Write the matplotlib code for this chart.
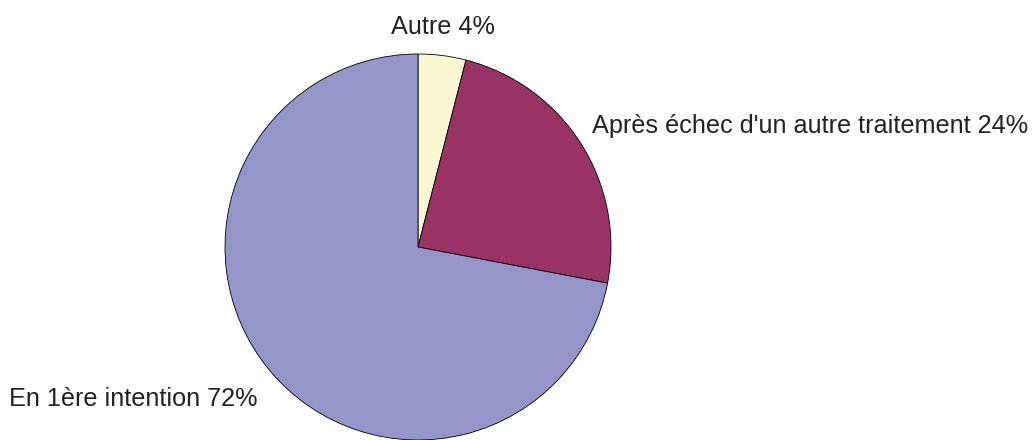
import matplotlib
matplotlib.use("Agg")
import matplotlib.pyplot as plt

labels = ["Autre", "Après échec d'un autre traitement", "En 1ère intention"]
shares = [4, 24, 72]
colors = ["#FAF8D2", "#993366", "#9595C9"]

plt.rcParams["font.family"] = ["Liberation Sans", "DejaVu Sans"]

W, H = 1033, 440
fig = plt.figure(figsize=(W / 100, H / 100), dpi=100)
R = 193
cx, cy = 418, 247
ax = fig.add_axes([(cx - R) / W, (H - cy - R) / H, 2 * R / W, 2 * R / H])
ax.pie(shares, colors=colors, startangle=90, counterclock=False, radius=1,
       wedgeprops=dict(edgecolor="black", linewidth=0.6))
ax.set_xlim(-1, 1)
ax.set_ylim(-1, 1)
ax.set_aspect("equal")
ax.axis("off")

# label positions (data units, radius = 1)
pos = [(0.13, 1.14, "center"), (0.90, 0.625, "left"), (-0.83, -0.785, "right")]
for (x, y, ha), lab, v in zip(pos, labels, shares):
    ax.text(x, y, f"{lab} {v}%", ha=ha, va="center", fontsize=18.2,
            color="#222222", clip_on=False)

fig.savefig("out.png", dpi=100)
